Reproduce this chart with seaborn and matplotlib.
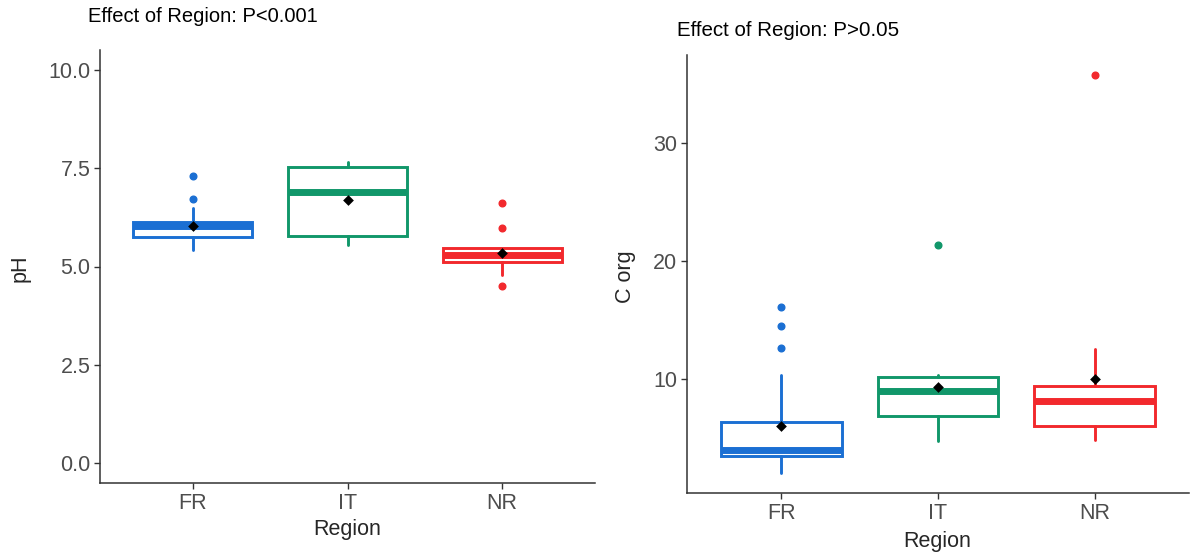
import matplotlib
matplotlib.use("Agg")
import matplotlib.pyplot as plt
import seaborn as sns

# Regions and their colours
regions = ["FR", "IT", "NR"]
palette = ["#1b6fd3", "#11976a", "#f2292d"]

# pH: box summaries per region
ph_q1 = [5.75, 5.77, 5.11]
ph_med = [6.02, 6.89, 5.29]
ph_q3 = [6.13, 7.52, 5.47]
ph_wlo = [5.42, 5.54, 4.78]
ph_whi = [6.48, 7.65, 5.47]
ph_mean = [6.03, 6.68, 5.34]
ph_out = [[7.29, 6.71], [], [6.61, 5.98, 4.51]]

# Organic carbon: box summaries per region
corg_q1 = [3.45, 6.88, 5.97]
corg_med = [4.0, 8.95, 8.1]
corg_q3 = [6.31, 10.14, 9.37]
corg_wlo = [2.0, 4.69, 4.83]
corg_whi = [10.3, 10.3, 12.55]
corg_mean = [6.03, 9.32, 10.03]
corg_out = [[16.1, 14.5, 12.6], [21.4], [35.8]]

sns.set_theme(style="ticks")
plt.rcParams["font.family"] = ["Liberation Sans", "DejaVu Sans"]

fig = plt.figure(figsize=(12, 5.55), dpi=100)
ax1 = fig.add_axes([100 / 1200, 72 / 555, 495 / 1200, 433 / 555])
ax2 = fig.add_axes([687 / 1200, 62 / 555, 502 / 1200, 438 / 555])


def draw_boxes(ax, q1, med, q3, wlo, whi, means, outs):
    pos = list(range(len(regions)))
    for i, c in enumerate(palette):
        stats = [dict(q1=q1[i], med=med[i], q3=q3[i], whislo=wlo[i],
                      whishi=whi[i], fliers=outs[i])]
        ax.bxp(stats, positions=[pos[i]], widths=0.77, patch_artist=True,
               showfliers=True, capwidths=0,
               boxprops=dict(facecolor="white", edgecolor=c, linewidth=2.1),
               medianprops=dict(color=c, linewidth=5.0, solid_capstyle="butt"),
               whiskerprops=dict(color=c, linewidth=2.1),
               capprops=dict(color=c, linewidth=0),
               flierprops=dict(marker="o", markerfacecolor=c,
                               markeredgecolor=c, markersize=4.8))
    sns.scatterplot(x=pos, y=means, marker="D", color="black",
                    edgecolor="black", linewidth=0, s=30, ax=ax, zorder=6)
    ax.set_xlim(-0.6, len(regions) - 0.4)
    ax.set_xticks(pos)
    ax.set_xticklabels(regions)
    ax.set_xlabel("")
    ax.set_ylabel("")
    for side in ("top", "right"):
        ax.spines[side].set_visible(False)
    for side in ("left", "bottom"):
        ax.spines[side].set_color("#333333")
        ax.spines[side].set_linewidth(1.1)
    ax.tick_params(axis="both", colors="#333333", length=4, width=1.0,
                   labelsize=15.5, labelcolor="#4d4d4d", pad=3)


draw_boxes(ax1, ph_q1, ph_med, ph_q3, ph_wlo, ph_whi, ph_mean, ph_out)
ax1.set_ylim(-0.5, 10.5)
ax1.set_yticks([0, 2.5, 5, 7.5, 10])
ax1.set_yticklabels(["0.0", "2.5", "5.0", "7.5", "10.0"])

draw_boxes(ax2, corg_q1, corg_med, corg_q3, corg_wlo, corg_whi, corg_mean, corg_out)
ax2.set_ylim(0.31, 37.5)
ax2.set_yticks([10, 20, 30])

# Panel titles
fig.text(88 / 1200, 1 - 17 / 555, "Effect of Region: P<0.001",
         fontsize=14.5, color="black", ha="left", va="center")
fig.text(677 / 1200, 1 - 30 / 555, "Effect of Region: P>0.05",
         fontsize=14.8, color="black", ha="left", va="center")

# Axis titles
fig.text(347 / 1200, 1 - 530 / 555, "Region", fontsize=15.5, ha="center", va="center")
fig.text(937 / 1200, 1 - 542 / 555, "Region", fontsize=15.5, ha="center", va="center")
fig.text(20 / 1200, 1 - 268 / 555, "pH", fontsize=15.5, ha="center", va="center",
         rotation=90)
fig.text(625 / 1200, 1 - 277 / 555, "C org", fontsize=15.5, ha="center", va="center",
         rotation=90)

fig.savefig("out.png", dpi=100, facecolor="white")
